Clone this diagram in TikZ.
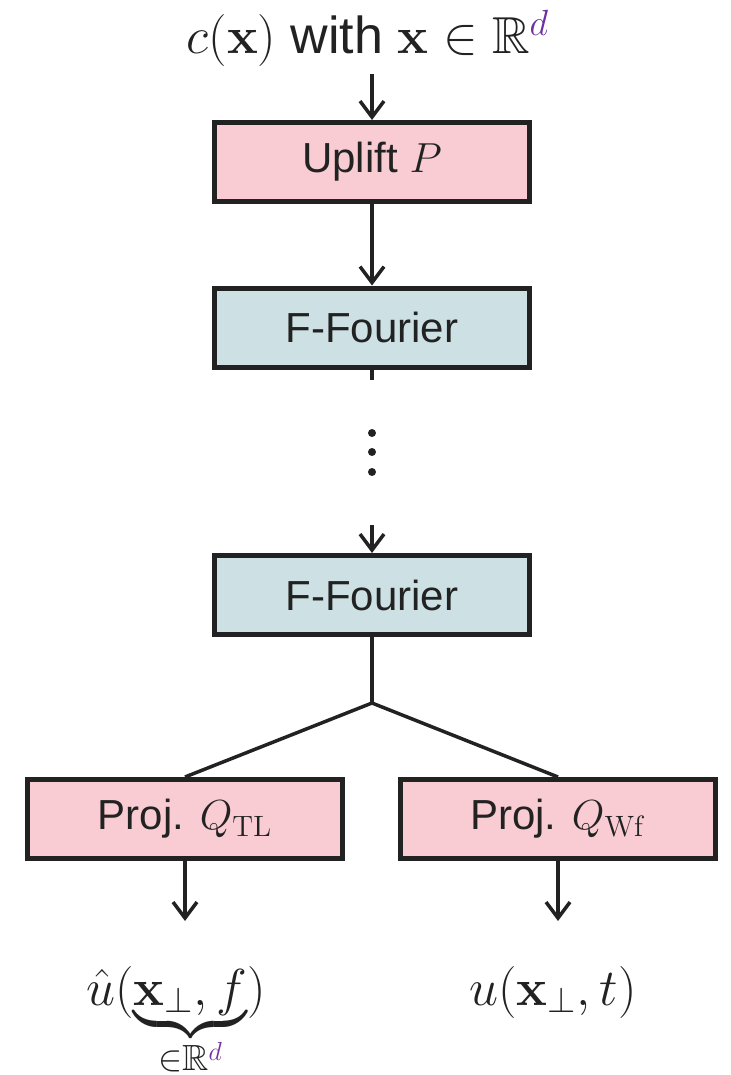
\documentclass[tikz,border=0pt]{standalone}
\usepackage{fix-cm}
\usepackage{amsmath, amssymb}
\usepackage[no-math]{fontspec}
\setmainfont{Liberation Sans}
\definecolor{upliftpink}{RGB}{248, 204, 210}
\definecolor{fourierblue}{RGB}{205, 225, 229}
\definecolor{edgegray}{RGB}{34, 34, 34}
\definecolor{dimpurple}{RGB}{112, 48, 160}
\usetikzlibrary{arrows.meta, positioning}
\newcommand{\dimd}{{\color{dimpurple}d}}

\begin{document}
\begin{tikzpicture}[x=0.5pt, y=-0.5pt,
  box/.style={draw=edgegray, line width=2.5pt, minimum width=157.5pt, minimum height=39.5pt, inner sep=0pt, text=edgegray, font=\fontsize{21}{25}\selectfont},
  mathlabel/.style={text=edgegray, font=\fontsize{26}{31}\selectfont, anchor=base},
  link/.style={draw=edgegray, line width=1.75pt},
  flow/.style={link, -{Straight Barb[length=8pt, width=12pt, line width=1.75pt]}}]
  \useasboundingbox (0,0) rectangle (730,1075);

  % Input field
  \node[mathlabel] (input) at (368,54) {$c(\mathbf{x})$ with $\mathbf{x}\in\mathbb{R}^{\dimd}$};

  % Lifting and Fourier layers
  \node[box, fill=upliftpink] (uplift) at (372,162) {Uplift $P$};
  \node[box, fill=fourierblue] (fourtop) at (372,327.5) {F-Fourier};
  \node[box, fill=fourierblue] (fourbot) at (372,595) {F-Fourier};

  \coordinate (stub) at (372,380);
  \coordinate (feed) at (372,525);
  \coordinate (split) at (372,703);
  \foreach \y in {433,452,472}
    \fill[edgegray] (372,\y) circle (2pt);

  % Projection heads
  \node[box, fill=upliftpink] (projtl) at (185,819) {Proj. $Q_{\mathrm{TL}}$};
  \node[box, fill=upliftpink] (projwf) at (558,819) {Proj. $Q_{\mathrm{Wf}}$};

  % Outputs
  \node[mathlabel] (outtl) at (176,1005) {$\hat{u}(\underbrace{\mathbf{x}_\perp, f}_{\in\mathbb{R}^{\dimd}})$};
  \node[mathlabel] (outwf) at (553,1005) {$u(\mathbf{x}_\perp, t)$};

  % Connectors
  \draw[flow] (input.south -| uplift.north) -- (uplift.north);
  \draw[flow] (uplift.south) -- (fourtop.north);
  \draw[link] (fourtop.south) -- (stub);
  \draw[flow] (feed) -- (fourbot.north);
  \draw[link] (fourbot.south) -- (split);
  \draw[link] (split) -- (projtl.north);
  \draw[link] (split) -- (projwf.north);
  \draw[flow, shorten >=19pt] (projtl.south) -- (projtl.south |- outtl.north);
  \draw[flow, shorten >=19pt] (projwf.south) -- (projwf.south |- outwf.north);
\end{tikzpicture}
\end{document}
